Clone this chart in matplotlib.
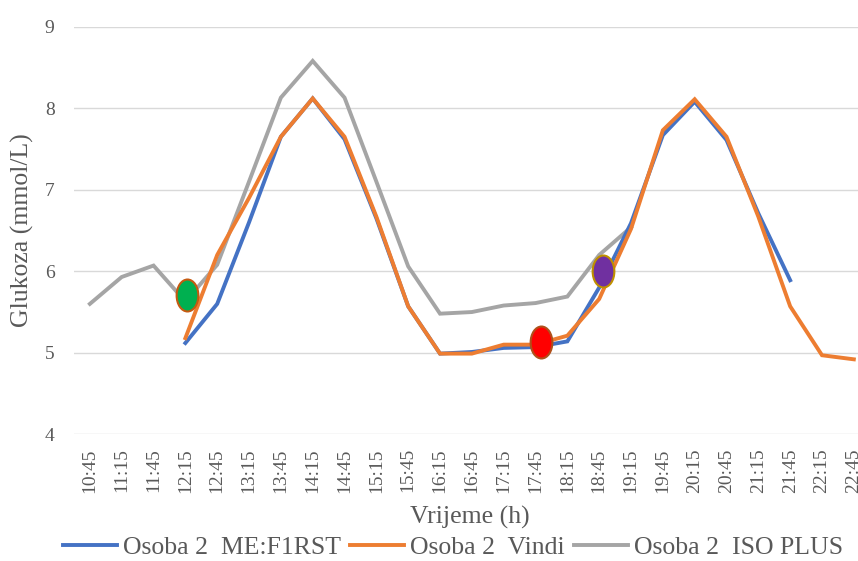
import numpy as np
import matplotlib
matplotlib.use("Agg")
import matplotlib.pyplot as plt
from matplotlib.path import Path
from matplotlib.transforms import Affine2D

nan = np.nan
times = ['10:45', '11:15', '11:45', '12:15', '12:45', '13:15', '13:45', '14:15',
         '14:45', '15:15', '15:45', '16:15', '16:45', '17:15', '17:45', '18:15',
         '18:45', '19:15', '19:45', '20:15', '20:45', '21:15', '21:45', '22:15', '22:45']
me_first = [nan, nan, nan, 5.12, 5.60, 6.60, 7.65, 8.12, 7.62, 6.65, 5.57, 4.99, 5.01,
            5.06, 5.07, 5.14, 5.80, 6.59, 7.67, 8.08, 7.61, 6.71, 5.89, nan, nan]
vindi = [nan, nan, nan, 5.18, 6.20, 6.90, 7.65, 8.12, 7.65, 6.67, 5.57, 4.99, 4.99,
         5.10, 5.10, 5.21, 5.66, 6.52, 7.73, 8.11, 7.65, 6.67, 5.57, 4.97, 4.92]
iso_plus = [5.60, 5.93, 6.07, 5.63, 6.08, 7.10, 8.13, 8.58, 8.13, 7.10, 6.06, 5.48, 5.50,
            5.58, 5.61, 5.69, 6.20, 6.54, nan, nan, nan, nan, nan, nan, nan]
series_names = ['Osoba 2  ME:F1RST', 'Osoba 2  Vindi', 'Osoba 2  ISO PLUS']

# highlighted points (ellipse markers)
mark_x = [3.05, 14.18, 16.13]
mark_y = [5.71, 5.13, 6.00]

plt.rcParams['font.family'] = ['Liberation Serif', 'DejaVu Serif']
txt_color = '#595959'

fig = plt.figure(figsize=(8.58, 5.61), dpi=100)
ax = fig.add_axes([0.0862, 0.2258, 0.9275, 0.7266])

x = np.arange(len(times))
colors = ['#4472C4', '#ED7D31', '#A5A5A5']
lines = []
for vals, c, name in [(me_first, colors[0], series_names[0]),
                      (vindi, colors[1], series_names[1]),
                      (iso_plus, colors[2], series_names[2])]:
    ln, = ax.plot(x, vals, color=c, lw=2.8, solid_joinstyle='miter', label=name, zorder=3)
    lines.append(ln)
lines[0].set_zorder(3)
lines[1].set_zorder(4)
lines[2].set_zorder(2)

ell = Affine2D().scale(0.68, 1.0).transform_path(Path.unit_circle())
fills = ['#00B050', '#FF0000', '#7030A0']
edges = ['#C55A11', '#B0501A', '#BF9000']
for mx, my, fc, ec in zip(mark_x, mark_y, fills, edges):
    ax.plot([mx], [my], marker=ell, markersize=23, markerfacecolor=fc,
            markeredgecolor=ec, markeredgewidth=1.5, linestyle='none', zorder=6)

ax.set_xlim(-0.5, len(times) - 0.5)
ax.set_ylim(4, 9)
ax.set_yticks([4, 5, 6, 7, 8, 9])
ax.set_xticks(x)
ax.set_xticklabels(times, rotation=90, fontsize=14, color=txt_color)
ax.tick_params(axis='x', length=0, pad=10)
ax.tick_params(axis='y', length=0, pad=14, labelsize=14, labelcolor=txt_color)
ax.grid(axis='y', color='#D9D9D9', lw=1)
ax.set_axisbelow(True)
for s in ax.spines.values():
    s.set_visible(False)

ax.set_ylabel('Glukoza (mmol/L)', fontsize=18.5, color=txt_color)
ax.yaxis.label.set_va('center')
ax.yaxis.set_label_coords(-0.0653, 0.5)
ax.set_xlabel('Vrijeme (h)', fontsize=18.5, color=txt_color)
ax.xaxis.label.set_va('center')
ax.xaxis.set_label_coords(0.4976, -0.205)

leg = fig.legend(handles=lines, labels=series_names, loc='center',
                 bbox_to_anchor=(0.528, 0.0232), ncol=3, frameon=False,
                 fontsize=18.5, handlelength=2.1, handletextpad=0.25,
                 columnspacing=0.35, labelcolor=txt_color)

fig.savefig('out.png', dpi=100)
